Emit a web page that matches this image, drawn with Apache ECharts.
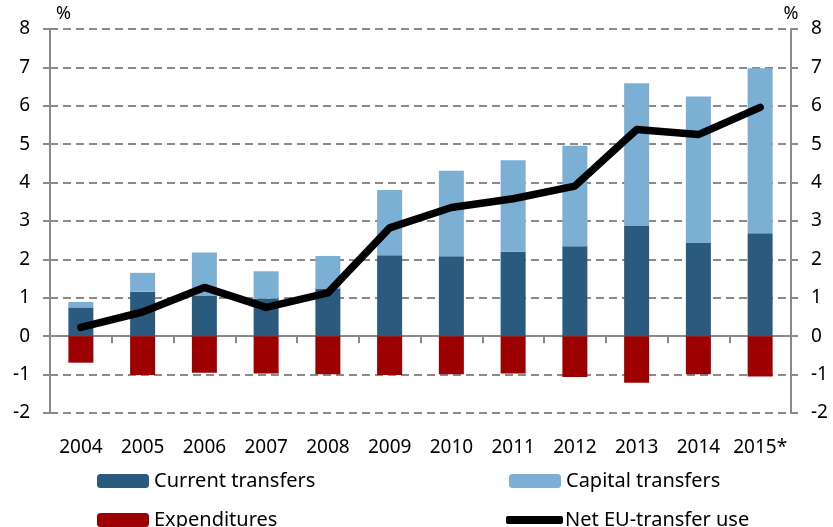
<!DOCTYPE html>
<html>
<head>
    <meta charset="utf-8" />
    <title>EU transfers</title>
    <script src="https://cdn.jsdelivr.net/npm/echarts@6/dist/echarts.min.js"></script>
    <style>
        html, body { margin: 0; padding: 0; background: #fff; }
        #main { width: 833px; height: 527px; }
    </style>
</head>
<body>
<div id="main"></div>
<script type="text/javascript">
    // years on the x axis
    var years = ['2004', '2005', '2006', '2007', '2008', '2009', '2010', '2011', '2012', '2013', '2014', '2015*'];
    // values in %
    var currentTransfers = [0.75, 1.16, 1.05, 0.98, 1.24, 2.11, 2.08, 2.20, 2.34, 2.87, 2.43, 2.68];
    var capitalTransfers = [0.14, 0.49, 1.13, 0.71, 0.85, 1.70, 2.23, 2.38, 2.62, 3.72, 3.81, 4.30];
    var expenditures = [-0.69, -1.01, -0.95, -0.97, -0.99, -1.01, -0.99, -0.97, -1.06, -1.21, -0.99, -1.05];
    var netTransferUse = [0.23, 0.63, 1.27, 0.75, 1.13, 2.82, 3.35, 3.58, 3.91, 5.38, 5.25, 5.96];

    var font = 'Noto Sans';
    var grey = '#8a8a8a';

    var yAxisBase = {
        type: 'value',
        min: -2,
        max: 8,
        interval: 1,
        name: '%',
        nameLocation: 'end',
        nameGap: 6,
        axisLine: { show: true, lineStyle: { color: grey, width: 2 } },
        axisTick: { show: true, inside: false, length: 7, lineStyle: { color: grey, width: 2 } },
        axisLabel: { color: '#000', fontFamily: font, fontSize: 19, margin: 20 }
    };

    // one legend box per entry, so each sits where it does in the picture
    function legendBox(name, left, top, w, h, pad) {
        return {
            data: [name], left: left, top: top, padding: 0,
            itemWidth: w, itemHeight: h, itemGap: 0,
            textStyle: { fontFamily: font, fontSize: 20, color: '#000', padding: [0, 0, 0, pad] }
        };
    }

    var option = {
        backgroundColor: '#fff',
        animation: false,
        grid: { left: 50, right: 42, top: 29, bottom: 114 },
        legend: [
            legendBox('Current transfers', 97, 471, 52, 14, 0),
            legendBox('Capital transfers', 509, 471, 52, 14, 0),
            legendBox('Expenditures', 97, 510, 52, 14, 0),
            legendBox({ name: 'Net EU-transfer use', icon: 'roundRect' }, 506, 510, 57, 8, -3)
        ],
        xAxis: [
            {
                type: 'category',
                data: years,
                position: 'bottom',
                axisLine: { show: false },
                axisTick: { show: false },
                axisLabel: { color: '#000', fontFamily: font, fontSize: 19, margin: 25, interval: 0 }
            },
            {
                type: 'category',
                data: years,
                position: 'bottom',
                axisLine: { show: true, onZero: true, onZeroAxisIndex: 0, lineStyle: { color: grey, width: 2 } },
                axisTick: { show: true, length: 7, interval: 0, lineStyle: { color: grey, width: 2 } },
                axisLabel: { show: false }
            }
        ],
        yAxis: [
            Object.assign({}, yAxisBase, {
                position: 'left',
                nameTextStyle: { color: '#000', fontFamily: font, fontSize: 18, align: 'left', padding: [0, 0, 0, 6] },
                splitLine: { show: true, lineStyle: { color: grey, width: 2, type: [8, 5] } }
            }),
            Object.assign({}, yAxisBase, {
                position: 'right',
                nameTextStyle: { color: '#000', fontFamily: font, fontSize: 18, align: 'center' },
                splitLine: { show: false }
            })
        ],
        series: [
            {
                name: 'Current transfers',
                type: 'bar',
                stack: 'eu',
                barWidth: 25,
                data: currentTransfers,
                itemStyle: { color: '#2a5b7e' }
            },
            {
                name: 'Capital transfers',
                type: 'bar',
                stack: 'eu',
                barWidth: 25,
                data: capitalTransfers,
                itemStyle: { color: '#7bafd4' }
            },
            {
                name: 'Expenditures',
                type: 'bar',
                stack: 'eu',
                barWidth: 25,
                data: expenditures,
                itemStyle: { color: '#9c0000' }
            },
            {
                name: 'Net EU-transfer use',
                type: 'line',
                data: netTransferUse,
                symbol: 'none',
                itemStyle: { color: '#000' },
                lineStyle: { color: '#000', width: 7.5, cap: 'round', join: 'round' },
                z: 5
            }
        ]
    };

    var myChart = echarts.init(document.getElementById('main'));
    myChart.setOption(option);
</script>
</body>
</html>
